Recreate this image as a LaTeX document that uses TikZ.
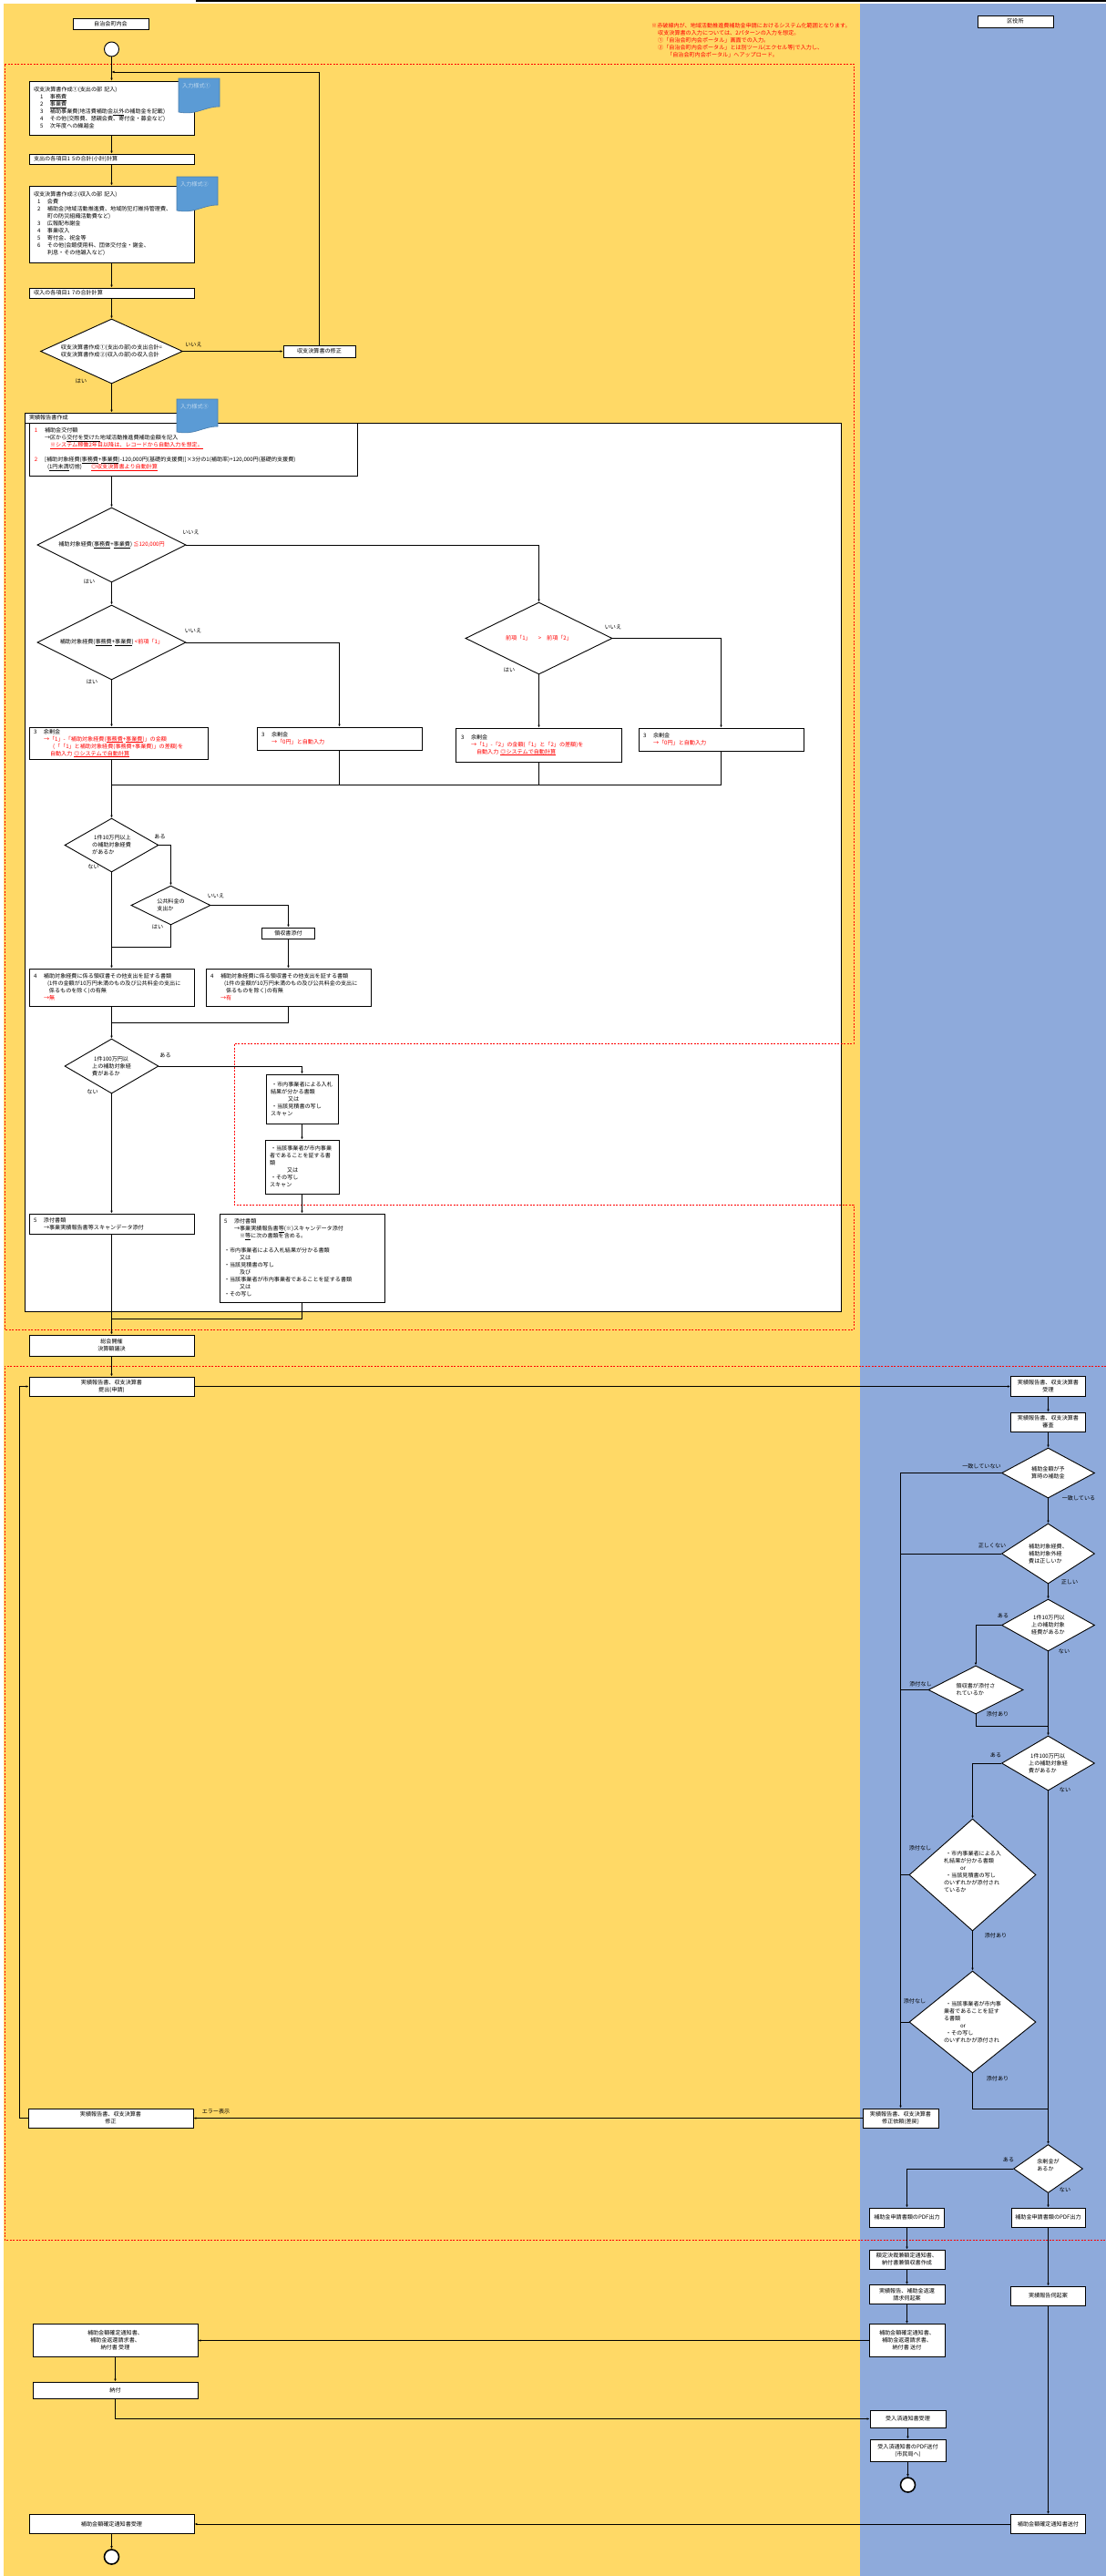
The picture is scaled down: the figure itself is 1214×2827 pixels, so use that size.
\documentclass[tikz,border=0pt]{standalone}
\usepackage{fontspec}
\setmainfont{Noto Sans CJK JP}
\usetikzlibrary{arrows.meta,shapes.geometric}
\definecolor{PanelYellow}{HTML}{FFD966}
\definecolor{PanelBlue}{HTML}{8EAADB}
\definecolor{NoteBlue}{HTML}{5B9BD5}
\definecolor{NoteText}{HTML}{BDD7EE}
\definecolor{Alert}{HTML}{FF0000}
\newcommand{\inum}[2]{\hspace*{#1}\makebox[11pt][l]{#2}}
\newcommand{\alert}[1]{{\color{Alert}#1}}
\newcommand{\ulmark}[1]{\underline{\smash{#1}}}
\begin{document}
\begin{tikzpicture}[x=1pt,y=-1pt,
  base/.style={font=\fontsize{6.1}{8}\selectfont},
  box/.style={base,draw,fill=white,line width=.9pt,inner sep=1pt,align=center,minimum width=181pt},
  tbox/.style={base,draw,fill=white,line width=.9pt,inner xsep=5pt,inner ysep=1pt,align=left,minimum width=#1,text width=#1-10pt},
  tbox/.default=181pt,
  dia/.style={base,diamond,draw,fill=white,line width=.9pt,inner sep=0pt,align=left,shape aspect=1.8},
  lbl/.style={base,inner sep=0pt},
  startdot/.style={circle,draw,fill=white,line width=.9pt,minimum size=16pt,inner sep=0pt},
  enddot/.style={circle,draw,fill=white,line width=1.6pt,minimum size=16pt,inner sep=0pt},
  arrow/.style={-{Latex[length=3pt,width=2.6pt]},line width=.9pt},
  link/.style={line width=.9pt},
  zone/.style={draw=Alert,line width=.8pt,dash pattern=on 2pt off 1.5pt}
]
\useasboundingbox (0,0) rectangle (1214,2827);
\fill[PanelYellow] (4,4) rectangle (944,2827);
\fill[PanelBlue] (944,4) rectangle (1214,2827);
\fill[black] (215,0) rectangle (1214,2.2);

% upper part of the applicant lane
\node[box,minimum width=83pt,minimum height=12pt] (hdrA) at (121.5,26) {自治会町内会};
\node[box,minimum width=83pt,minimum height=13pt] (hdrB) at (1114.5,23.5) {区役所};
\node[lbl,anchor=north west,text=Alert,align=left] (scope) at (715,25) {※赤破線内が、地域活動推進費補助金申請におけるシステム化範囲となります。\\
\hspace*{7pt}収支決算書の入力については、2パターンの入力を想定。\\
\hspace*{7pt}①「自治会町内会ポータル」画面での入力。\\
\hspace*{7pt}②「自治会町内会ポータル」とは別ツール(エクセル等)で入力し、\\
\hspace*{17pt}「自治会町内会ポータル」へアップロード。};
\node[startdot] (start) at (122.5,54) {};
\node[tbox,minimum height=59pt] (plan1) at (122.5,118.5) {収支決算書作成①(支出の部 記入)\\
\inum{7pt}{1}\ulmark{事務費}\\
\inum{7pt}{2}\ulmark{事業費}\\
\inum{7pt}{3}補助事業費(地活費補助金\ulmark{以外}の補助金を記載)\\
\inum{7pt}{4}その他(交際費、懇親会費、寄付金・募金など)\\
\inum{7pt}{5}次年度への繰越金\par\vspace{4.7pt}};
\node[tbox,minimum height=11pt] (sum1) at (122.5,174.5) {支出の各項目1~5の合計(小計)計算};
\node[tbox,minimum height=84pt] (plan2) at (122.5,246) {収支決算書作成②(収入の部 記入)\\
\inum{4pt}{1}会費\\
\inum{4pt}{2}補助金(地域活動推進費、地域防犯灯維持管理費、\\
\hspace*{15pt}町の防災組織活動費など)\\
\inum{4pt}{3}広報配布謝金\\
\inum{4pt}{4}事業収入\\
\inum{4pt}{5}寄付金、祝金等\\
\inum{4pt}{6}その他(会館使用料、団体交付金・謝金、\\
\hspace*{15pt}利息・その他雑入など)\par\vspace{5.7pt}};
\node[tbox,minimum height=11pt] (sum2) at (122.5,321.5) {収入の各項目1~7の合計計算};
\node[dia,minimum width=156pt,minimum height=71pt,shape aspect=2.2] (chk) at (122.5,385.5) {収支決算書作成①(支出の部)の支出合計=\\収支決算書作成②(収入の部)の収入合計};
\node[box,minimum width=79pt,minimum height=13pt] (fix) at (350.5,385.5) {収支決算書の修正};
\node[lbl] (chkno) at (212.5,378) {いいえ};
\node[lbl] (chkyes) at (89,418) {はい};

% report form
\node[draw,fill=white,line width=.9pt,minimum width=896pt,minimum height=975pt,inner sep=0pt] (body) at (475,951.5) {};
% red frames
\draw[zone] (5,70) -- (937,70) -- (937,1145) -- (257,1145) -- (257,1322) -- (937,1322) -- (937,1459) -- (5,1459) -- cycle;
\node[tbox=208pt,minimum height=11pt] (title) at (131,458.5) {実績報告書作成};
\node[tbox=360pt,minimum height=58pt] (grant) at (212,493) {\inum{1pt}{\alert{1}}補助金交付額\\
\hspace*{12pt}→区から\ulmark{交付を受けた}地域活動推進費補助金額を記入\\
\hspace*{18pt}\alert{\ulmark{※システム稼働2年目以降は、レコードから自動入力を想定。}}\\[8pt]
\inum{1pt}{\alert{2}}[補助対象経費(\ulmark{事務費}+\ulmark{事業費})-120,000円(基礎的支援費)]×3分の1(補助率)+120,000円(基礎的支援費)\\
\hspace*{15pt}(\ulmark{1円未満}切捨)\hspace*{10pt}\alert{\ulmark{◎収支決算書より自動計算}}\par\vspace{3.7pt}};
\node[dia,minimum width=163pt,minimum height=82pt,shape aspect=2] (limit) at (122.5,598) {補助対象経費(\ulmark{事務費}+\ulmark{事業費})\alert{\ ≦120,000円}};
\node[dia,minimum width=163pt,minimum height=82pt,shape aspect=2] (prior) at (122.5,705) {補助対象経費(\ulmark{事務費}+\ulmark{事業費})\alert{\ <前項「1」}};
\node[dia,minimum width=161pt,minimum height=79pt,shape aspect=2] (cmp) at (591.5,700.5) {\alert{前項「1」\hspace*{8pt}>\hspace*{6pt}前項「2」}};
\node[lbl] (limno) at (209.5,584) {いいえ};
\node[lbl] (limyes) at (98,638) {はい};
\node[lbl] (prino) at (212,692) {いいえ};
\node[lbl] (priyes) at (101,748) {はい};
\node[lbl] (cmpno) at (673,688) {いいえ};
\node[lbl] (cmpyes) at (559,735) {はい};
\node[tbox=196pt,minimum height=35pt] (restA) at (130,815.5) {\inum{0pt}{3}余剰金\\
\hspace*{11pt}\alert{→「1」-「補助対象経費(\ulmark{事務費}+\ulmark{事業費})」の金額}\\
\hspace*{21pt}\alert{(「「1」と補助対象経費(事務費+事業費)」の差額)を}\\
\hspace*{18pt}\alert{自動入力 \ulmark{◎システムで自動計算}}};
\node[tbox,minimum height=25pt] (restB) at (372.5,810.5) {\inum{0pt}{3}余剰金\\
\hspace*{11pt}\alert{→「0円」と自動入力}\par\vspace{2.7pt}};
\node[tbox=182pt,minimum height=37pt] (restC) at (591,817.5) {\inum{1pt}{3}余剰金\\
\hspace*{12pt}\alert{→「1」-「2」の金額(「1」と「2」の差額)を}\\
\hspace*{18pt}\alert{自動入力 \ulmark{◎システムで自動計算}}\par\vspace{6.7pt}};
\node[tbox,minimum height=25pt] (restD) at (791.5,811.5) {\inum{0pt}{3}余剰金\\
\hspace*{11pt}\alert{→「0円」と自動入力}\par\vspace{2.7pt}};
\coordinate (mrg) at (122.5,861);
\node[dia,minimum width=103pt,minimum height=59pt] (tenk) at (122.5,927.5) {\hspace*{2pt}1件10万円以上\\の補助対象経費\\があるか};
\node[dia,minimum width=87pt,minimum height=43pt] (pub) at (187.5,993.5) {公共料金の\\支出か};
\node[box,minimum width=58pt,minimum height=12pt] (rcpt) at (316.5,1024) {領収書添付};
\node[lbl] (tenkyes) at (175.5,918) {ある};
\node[lbl] (tenkno) at (102.5,951) {ない};
\node[lbl] (pubno) at (237,983) {いいえ};
\node[lbl] (pubyes) at (173,1017) {はい};
\coordinate (jn) at (122.5,1039);
\node[tbox,minimum height=41pt] (docA) at (122.5,1083.5) {\inum{0pt}{4}補助対象経費に係る領収書その他支出を証する書類\\
\hspace*{15pt}(1件の金額が10万円未満のもの及び公共料金の支出に\\
\hspace*{17pt}係るものを除く)の有無\\
\hspace*{11pt}\alert{→無}\par\vspace{2.7pt}};
\node[tbox,minimum height=41pt] (docB) at (316.5,1083.5) {\inum{0pt}{4}補助対象経費に係る領収書その他支出を証する書類\\
\hspace*{15pt}(1件の金額が10万円未満のもの及び公共料金の支出に\\
\hspace*{17pt}係るものを除く)の有無\\
\hspace*{11pt}\alert{→有}\par\vspace{2.7pt}};
\coordinate (jm) at (122.5,1122);
\node[dia,minimum width=103pt,minimum height=60pt] (mil) at (122.5,1170) {\hspace*{2pt}1件100万円以\\上の補助対象経\\費があるか};
\node[lbl] (milyes) at (181.5,1158) {ある};
\node[lbl] (milno) at (101.5,1198) {ない};
\node[tbox=79pt,minimum height=54pt,inner xsep=4pt] (scanA) at (331.5,1206) {\hspace*{1pt}・市内事業者による入札\\結果が分かる書類\\\hspace*{19pt}又は\\\hspace*{1pt}・当該見積書の写し\\スキャン\par\vspace{7.7pt}};
\node[tbox=81pt,minimum height=59pt,inner xsep=4pt] (scanB) at (331.5,1280.5) {\hspace*{1pt}・当該事業者が市内事業\\者であることを証する書\\類\\\hspace*{19pt}又は\\\hspace*{1pt}・その写し\\スキャン\par\vspace{4.7pt}};
\node[tbox,minimum height=22pt] (attA) at (122.5,1343) {\inum{0pt}{5}添付書類\\\hspace*{11pt}→事業実績報告書等スキャンデータ添付};
\node[tbox,minimum height=97pt] (attB) at (331.5,1380.5) {\inum{0pt}{5}添付書類\\
\hspace*{11pt}→事業実績報告書\ulmark{等}(※)スキャンデータ添付\\
\hspace*{17pt}※\ulmark{等}に次の書類を含める。\\[8pt]
・市内事業者による入札結果が分かる書類\\
\hspace*{17pt}又は\\
・当該見積書の写し\\
\hspace*{17pt}及び\\
・当該事業者が市内事業者であることを証する書類\\
\hspace*{17pt}又は\\
・その写し\par\vspace{2.7pt}};
\coordinate (jb) at (122.5,1447);
\node[box,minimum height=23pt] (mtg) at (122.5,1476.5) {総会開催\\決算額議決};
\node[box,minimum height=21pt] (submit) at (122.5,1521.5) {実績報告書、収支決算書\\提出(申請)};
\draw[zone] (1214,1499) -- (5,1499) -- (5,2458) -- (1214,2458);

% office lane
\node[box,minimum width=82pt,minimum height=22pt] (recv) at (1150.5,1521.5) {実績報告書、収支決算書\\受理};
\node[box,minimum width=82pt,minimum height=21pt] (rev) at (1150.5,1560.5) {実績報告書、収支決算書\\審査};
\node[dia,minimum width=102pt,minimum height=55pt] (amt) at (1150.5,1616.5) {補助金額が予\\算時の補助金};
\node[dia,minimum width=102pt,minimum height=66pt] (cost) at (1150.5,1705) {補助対象経費、\\補助対象外経\\費は正しいか};
\node[dia,minimum width=102pt,minimum height=57pt] (tenkB) at (1150.5,1783.5) {\hspace*{2pt}1件10万円以\\上の補助対象\\経費があるか};
\node[dia,minimum width=104pt,minimum height=53pt] (att) at (1071,1854.5) {領収書が添付さ\\れているか};
\node[dia,minimum width=102pt,minimum height=60pt] (milB) at (1150.5,1935) {\hspace*{2pt}1件100万円以\\上の補助対象経\\費があるか};
\node[dia,minimum width=139pt,minimum height=123pt,shape aspect=1.13] (bid) at (1067.5,2057.5) {\hspace*{2pt}・市内事業者による入\\札結果が分かる書類\\\hspace*{18pt}or\\\hspace*{2pt}・当該見積書の写し\\のいずれかが添付され\\ているか\\\mbox{}};
\node[dia,minimum width=139pt,minimum height=112pt,shape aspect=1.24] (loc) at (1067.5,2219) {\hspace*{2pt}・当該事業者が市内事\\業者であることを証す\\る書類\\\hspace*{18pt}or\\\hspace*{2pt}・その写し\\のいずれかが添付され};
\node[lbl] (amtno) at (1077.5,1609) {一致していない};
\node[lbl] (amtyes) at (1184,1644) {一致している};
\node[lbl] (costno) at (1089,1696) {正しくない};
\node[lbl] (costyes) at (1174,1736) {正しい};
\node[lbl] (tbyes) at (1101,1773) {ある};
\node[lbl] (tbno) at (1168,1812) {ない};
\node[lbl] (attno) at (1010.5,1848) {添付なし};
\node[lbl] (attyes) at (1095,1881) {添付あり};
\node[lbl] (mbyes) at (1093,1926) {ある};
\node[lbl] (mbno) at (1169,1964) {ない};
\node[lbl] (bidno) at (1010,2028) {添付なし};
\node[lbl] (bidyes) at (1093,2124) {添付あり};
\node[lbl] (locno) at (1004,2196) {添付なし};
\node[lbl] (locyes) at (1095,2281) {添付あり};
\coordinate (ja) at (1150.5,1894);
\coordinate (jc) at (1150.5,2314);
\node[box,minimum width=83pt,minimum height=21pt] (ret) at (988.5,2324.5) {実績報告書、収支決算書\\修正依頼(差戻)};
\node[box,minimum height=21pt] (fixB) at (121.5,2324.5) {実績報告書、収支決算書\\修正};
\coordinate (lp) at (21,2324.5);
\node[lbl] (err) at (237,2317) {エラー表示};
\node[dia,minimum width=76pt,minimum height=53pt] (sur) at (1150.5,2380) {余剰金が\\あるか\\\mbox{}};
\node[lbl] (suryes) at (1107,2370) {ある};
\node[lbl] (surno) at (1169,2403) {ない};
\node[box,minimum width=82pt,minimum height=21pt] (pdfA) at (995.5,2433.5) {補助金申請書類のPDF出力};
\node[box,minimum width=81pt,minimum height=21pt] (pdfB) at (1150.5,2433.5) {補助金申請書類のPDF出力};
\node[box,minimum width=83pt,minimum height=21pt] (kak) at (995.5,2479.5) {額定決裁兼額定通知書、\\納付書兼領収書作成};
\node[box,minimum width=83pt,minimum height=21pt] (req) at (995.5,2518) {実績報告、補助金返還\\請求伺起案};
\node[box,minimum width=83pt,minimum height=36pt] (send) at (995.5,2568.5) {補助金額確定通知書、\\補助金返還請求書、\\納付書 送付};
\node[box,minimum width=82pt,minimum height=21pt] (apv) at (1150.5,2519.5) {実績報告伺起案};
\node[box,minimum width=83pt,minimum height=19pt] (ack) at (996.5,2654.5) {受入済通知書受理};
\node[box,minimum width=83pt,minimum height=24pt] (pdfS) at (996.5,2689) {受入済通知書のPDF送付\\(市民局へ)};
\node[enddot] (endR) at (996.5,2727) {};
\node[box,minimum width=82pt,minimum height=21pt] (notif) at (1150.5,2770) {補助金額確定通知書送付};
\node[box,minimum height=36pt] (recvL) at (126.5,2568.5) {補助金額確定通知書、\\補助金返還請求書、\\納付書 受理};
\node[box,minimum height=18pt] (pay) at (126.5,2623) {納付};
\node[box,minimum height=21pt] (fin) at (122.5,2770) {補助金額確定通知書受理};
\node[enddot] (endL) at (122.5,2806) {};

% input sheets
\foreach \sx/\sy/\sh/\sn/\st in {196/86/31/a/①,194/194/31/b/②,194/438/30/c/③}{
  \draw[fill=NoteBlue,draw=NoteBlue!80!black,line width=.6pt] (\sx,\sy) -- (\sx+45,\sy) -- (\sx+45,\sy+\sh) .. controls (\sx+28,\sy+\sh) and (\sx+20,\sy+\sh+10) .. (\sx,\sy+\sh+6) -- cycle;
  \node[lbl,anchor=west,text=NoteText] (sheet\sn) at (\sx+4,\sy+8) {入力様式\st};
}

\draw[arrow] (start) -- (plan1);
\draw[arrow] (plan1) -- (sum1);
\draw[arrow] (sum1) -- (plan2);
\draw[arrow] (plan2) -- (sum2);
\draw[arrow] (sum2) -- (chk);
\draw[arrow] (chk) -- (fix);
\coordinate (back) at (122.5,79);
\draw[arrow] (fix.north) |- (back);
\draw[arrow] (chk.south) -- (chk.south |- title.north);
\draw[arrow] (limit.north |- grant.south) -- (limit);
\draw[arrow] (limit) -- (prior);
\draw[arrow] (limit.east) -| (cmp.north);
\draw[arrow] (prior.south) -- (prior.south |- restA.north);
\draw[arrow] (prior.east) -| (restB.north);
\draw[arrow] (cmp.south) -- (cmp.south |- restC.north);
\draw[arrow] (cmp.east) -| (restD.north);
\draw[link] (mrg |- restA.south) -- (mrg);
\draw[link] (restB.south) -- (restB.south |- mrg);
\draw[link] (restC.south) -- (restC.south |- mrg);
\draw[link] (restD.south) |- (mrg);
\draw[arrow] (mrg) -- (tenk);
\draw[arrow] (tenk) -- (docA);
\draw[arrow] (tenk.east) -| (pub.north);
\draw[arrow] (pub.east) -| (rcpt.north);
\draw[link] (pub.south) |- (jn);
\draw[arrow] (rcpt) -- (docB);
\draw[arrow] (docA) -- (mil);
\draw[link] (docB.south) |- (jm);
\draw[arrow] (mil) -- (attA);
\draw[arrow] (mil.east) -| (scanA.north);
\draw[arrow] (scanA) -- (scanB);
\draw[arrow] (scanB) -- (attB);
\draw[arrow] (attA) -- (mtg);
\draw[link] (attB.south) |- (jb);
\draw[arrow] (mtg) -- (submit);
\draw[arrow] (submit) -- (recv);
\draw[arrow] (recv) -- (rev);
\draw[arrow] (rev) -- (amt);
\draw[arrow] (amt) -- (cost);
\draw[arrow] (cost) -- (tenkB);
\draw[arrow] (tenkB) -- (milB);
\draw[arrow] (amt.west) -| (ret.north);
\draw[link] (cost.west) -- (cost.west -| ret);
\draw[link] (att.west) -- (att.west -| ret);
\draw[link] (bid.west) -- (bid.west -| ret);
\draw[link] (loc.west) -- (loc.west -| ret);
\draw[arrow] (tenkB.west) -| (att.north);
\draw[link] (att.south) |- (ja);
\draw[arrow] (milB.west) -| (bid.north);
\draw[arrow] (bid) -- (loc);
\draw[link] (loc.south) |- (jc);
\draw[arrow] (milB) -- (sur);
\draw[arrow] (ret) -- (fixB);
\draw[arrow] (fixB.west) -- (lp) |- (submit.west);
\draw[arrow] (sur.west) -| (pdfA.north);
\draw[arrow] (sur) -- (pdfB);
\draw[arrow] (pdfA) -- (kak);
\draw[arrow] (kak) -- (req);
\draw[arrow] (req) -- (send);
\draw[arrow] (pdfB) -- (apv);
\draw[arrow] (apv) -- (notif);
\draw[arrow] (send) -- (recvL);
\draw[arrow] (recvL) -- (pay);
\draw[arrow] (pay.south) |- (ack.west);
\draw[arrow] (ack) -- (pdfS);
\draw[arrow] (pdfS) -- (endR);
\draw[arrow] (notif) -- (fin);
\draw[arrow] (fin) -- (endL);
\end{tikzpicture}
\end{document}
